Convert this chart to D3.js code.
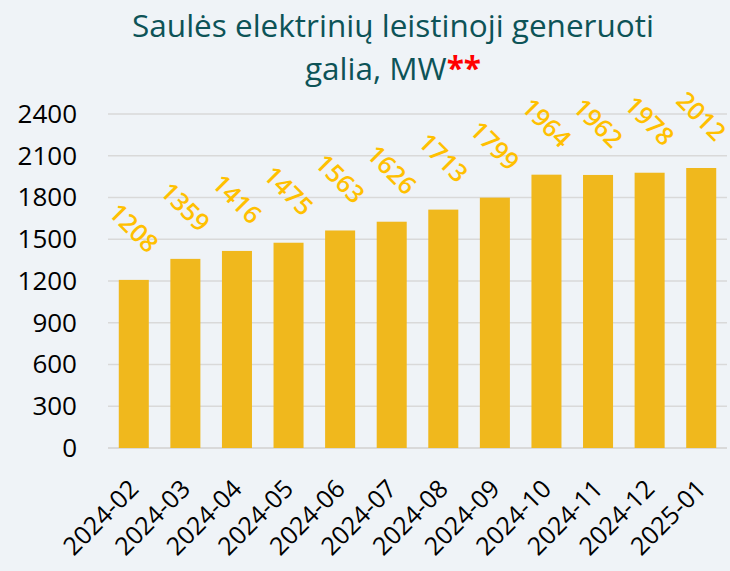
<!DOCTYPE html>
<html>
<head>
<meta charset="utf-8">
<script src="https://cdn.jsdelivr.net/npm/d3@7"></script>
<style>
body {margin:0; background:#eff3f7;}
svg {display:block; font-family:"Open Sans", sans-serif;}
</style>
</head>
<body>
<svg></svg>
<script>

var months = ["2024-02","2024-03","2024-04","2024-05","2024-06","2024-07","2024-08","2024-09","2024-10","2024-11","2024-12","2025-01"]
var power = [1208,1359,1416,1475,1563,1626,1713,1799,1964,1962,1978,2012]
var yTicks = [0,300,600,900,1200,1500,1800,2100,2400]
var titleLines = ["Saulės elektrinių leistinoji generuoti","galia, MW"]

var screen = {width:730,height:571}
var margins = {top:114,right:3,bottom:123,left:108}

var svg = d3.select("svg")
    .attr("width",screen.width)
    .attr("height",screen.height)

svg.append("rect")
    .attr("width",screen.width)
    .attr("height",screen.height)
    .attr("fill","#eff3f7")

var width = screen.width - margins.left - margins.right
var height = screen.height - margins.top - margins.bottom

var xScale = d3.scaleBand()
                .domain(months)
                .range([0,width])
                .paddingInner(0.418)
                .paddingOuter(0.209)

var yScale = d3.scaleLinear()
                .domain([0,2400])
                .range([height,0])

var graph = svg.append("g")
    .attr("id","graph")
    .attr("transform","translate("+margins.left+","+margins.top+")")

// gridlines
graph.append("g")
    .selectAll("line")
    .data(yTicks)
    .enter()
    .append("line")
    .attr("x1",0)
    .attr("x2",width)
    .attr("y1",function(d){return yScale(d)})
    .attr("y2",function(d){return yScale(d)})
    .attr("stroke","#d9d9d9")
    .attr("stroke-width",function(d){return d==0 ? 2 : 1.5})

// y axis labels
var yAxis = d3.axisLeft(yScale)
    .tickValues(yTicks)
    .tickFormat(d3.format("d"))
    .tickSize(0)
    .tickPadding(31)

graph.append("g")
    .attr("id","yAxis")
    .call(yAxis)
    .call(function(g){g.select(".domain").remove()})
    .selectAll("text")
    .attr("font-size",26)
    .attr("font-family","'Open Sans', sans-serif")
    .attr("fill","#000")

// bars
graph.selectAll("rect.bar")
    .data(power)
    .enter()
    .append("rect")
    .attr("class","bar")
    .attr("x",function(d,i){return xScale(months[i])})
    .attr("y",function(d){return yScale(d)})
    .attr("width",xScale.bandwidth())
    .attr("height",function(d){return height - yScale(d)})
    .attr("fill","#f0b81d")

// value labels
graph.selectAll("text.value")
    .data(power)
    .enter()
    .append("text")
    .attr("class","value")
    .attr("transform",function(d,i)
        {
            var cx = xScale(months[i]) + xScale.bandwidth()/2
            var cy = yScale(d) - 52
            return "translate("+cx+","+cy+") rotate(45)"
        })
    .attr("text-anchor","middle")
    .attr("dy","0.36em")
    .attr("font-size",25)
    .attr("font-weight",600)
    .attr("fill","#ffc000")
    .text(function(d){return d})

// x axis labels
var xAxis = d3.axisBottom(xScale).tickSize(0).tickPadding(0)

graph.append("g")
    .attr("id","xAxis")
    .attr("transform","translate(0,"+height+")")
    .call(xAxis)
    .call(function(g){g.select(".domain").remove()})
    .selectAll("text")
    .attr("font-size",25)
    .attr("font-family","'Open Sans', sans-serif")
    .attr("fill","#000")
    .attr("text-anchor","end")
    .attr("dy","0.36em")
    .attr("transform","translate(0,36) rotate(-45)")

// title
var title = svg.append("text")
    .attr("text-anchor","middle")
    .attr("font-size",31.5)
    .attr("fill","#0d5357")

title.append("tspan")
    .attr("x",393)
    .attr("y",37)
    .text(titleLines[0])

var line2 = title.append("tspan")
    .attr("x",393)
    .attr("y",80)

line2.append("tspan").text(titleLines[1])
line2.append("tspan").attr("fill","#ff0000").attr("font-weight","bold").text("**")

</script>
</body>
</html>
